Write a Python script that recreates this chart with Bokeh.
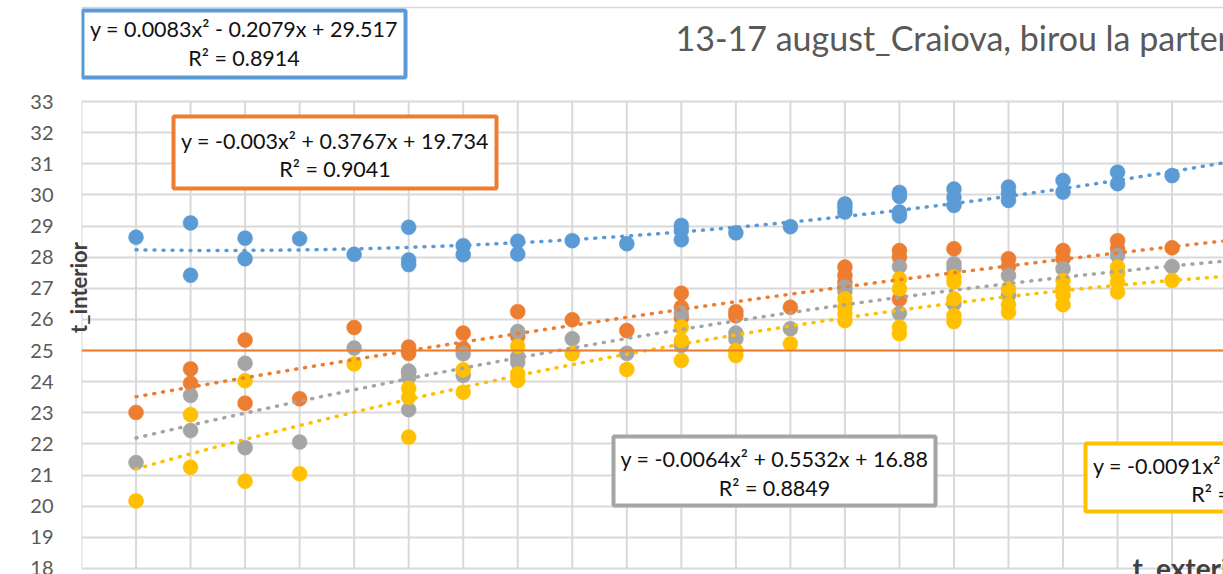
import numpy as np
from bokeh.plotting import figure
from bokeh.models import FixedTicker, Span, Range1d
from bokeh.core.properties import value
from bokeh.embed import file_html
from bokeh.resources import INLINE

# ---------------- data ----------------
blue_x = [11, 12, 12, 13, 13, 14, 15, 16, 16, 16, 17, 17, 18, 18, 19, 20,
          21, 21, 21, 22, 23, 24, 24, 24, 25, 25, 25, 25, 26, 26, 26,
          27, 27, 27, 28, 28, 29, 29, 30]
blue_y = [28.64, 29.10, 27.42, 28.61, 27.95, 28.59, 28.09, 28.96, 27.91, 27.76,
          28.37, 28.08, 28.51, 28.10, 28.53, 28.43, 29.02, 28.86, 28.56, 28.78,
          28.98, 29.71, 29.60, 29.45, 30.08, 29.95, 29.45, 29.32, 30.19, 29.92,
          29.66, 30.25, 30.04, 29.82, 30.46, 30.09, 30.73, 30.36, 30.62]

orange_x = [11, 12, 12, 13, 13, 14, 15, 16, 16, 16, 17, 17, 18, 18, 19, 20,
            21, 21, 21, 22, 22, 23, 24, 24, 24, 25, 25, 25, 26, 27, 27,
            28, 28, 29, 29, 30]
orange_y = [23.01, 24.41, 23.95, 25.34, 23.31, 23.45, 25.74, 25.11, 24.91, 24.30,
            25.56, 25.06, 26.25, 25.45, 25.99, 25.64, 26.84, 26.39, 26.05, 26.25,
            26.12, 26.39, 27.68, 27.41, 27.20, 28.21, 28.00, 26.65, 28.27, 27.95,
            27.70, 28.21, 27.95, 28.53, 28.27, 28.30]

gray_x = [11, 12, 12, 13, 13, 14, 15, 16, 16, 16, 17, 17, 18, 18, 18, 19, 20,
          21, 21, 22, 22, 23, 24, 24, 25, 25, 26, 26, 26, 27, 27, 28,
          29, 29, 30]
gray_y = [21.40, 23.56, 22.43, 24.59, 21.88, 22.06, 25.08, 24.34, 24.14, 23.10,
          24.90, 24.20, 25.61, 24.80, 24.62, 25.38, 24.91, 26.20, 25.16, 25.56,
          25.38, 25.70, 27.04, 26.90, 27.70, 26.20, 27.79, 27.63, 26.50, 27.41,
          26.77, 27.63, 28.05, 27.50, 27.70]

yellow_x = [11, 12, 12, 13, 13, 14, 15, 16, 16, 16, 17, 17, 18, 18, 18, 19, 20,
            21, 21, 21, 22, 22, 23, 24, 24, 24, 24, 25, 25, 25, 25,
            26, 26, 26, 26, 26, 27, 27, 27, 28, 28, 28, 28, 29, 29, 29, 29, 30]
yellow_y = [20.17, 22.94, 21.25, 24.03, 20.80, 21.04, 24.57, 23.79, 23.50, 22.22,
            24.38, 23.66, 25.14, 24.25, 24.04, 24.90, 24.39, 25.75, 25.32, 24.68,
            25.00, 24.84, 25.22, 26.66, 26.39, 26.18, 25.96, 27.30, 26.98, 25.75,
            25.54, 27.36, 27.20, 26.66, 26.12, 25.93, 26.98, 26.47, 26.23, 27.25,
            26.98, 26.77, 26.47, 27.68, 27.46, 27.20, 26.88, 27.25]

# trendline coefficients (a, b, c) of y = a x^2 + b x + c, as printed on the chart
blue_fit = [0.0083, -0.2079, 29.517]
orange_fit = [-0.003, 0.3767, 19.734]
gray_fit = [-0.0064, 0.5532, 16.88]
yellow_fit = [-0.0091, 0.6917, 14.69]

blue_label = ["y = 0.0083x² - 0.2079x + 29.517", "R² = 0.8914"]
orange_label = ["y = -0.003x² + 0.3767x + 19.734", "R² = 0.9041"]
gray_label = ["y = -0.0064x² + 0.5532x + 16.88", "R² = 0.8849"]
yellow_label = ["y = -0.0091x² + 0.6917x + 14.69", "R² = 0.8787"]

y_ticks = list(range(18, 34))
x_grid = list(range(10, 31))
threshold = 25
title_text = "13-17 august_Craiova, birou la parter"
y_title = "t_interior"
x_title = "t_exterior"

# ---------------- layout ----------------
W, H = 1223, 574
LEFT = 81            # plot area left edge (page px)
PX_X = 54.53         # px per x unit
PX_Y = 31.13         # px per y unit
X0 = 10
X1 = X0 + (W - LEFT) / PX_X
Y1 = 33 + 101 / PX_Y          # y=33 sits at page px 101
Y0 = Y1 - H / PX_Y


def px2x(px):   # page pixel -> data x
    return X0 + (px - LEFT) / PX_X


def py2y(py):   # page pixel -> data y
    return Y1 - py / PX_Y


BLUE, ORANGE, GRAY, YELLOW = "#5B9BD5", "#ED7D31", "#A5A5A5", "#FFC000"
GRID = "#D9D9D9"
FONT = "Lato"

p = figure(width=W, height=H, x_range=Range1d(X0, X1), y_range=Range1d(Y0, Y1),
           output_backend="svg", toolbar_location=None, x_axis_location=None,
           min_border=0, min_border_left=LEFT)
p.outline_line_color = None
p.background_fill_color = "white"
p.border_fill_color = "white"

ax = p.yaxis[0]
ax.ticker = FixedTicker(ticks=y_ticks)
ax.axis_line_color = None
ax.major_tick_line_color = None
ax.minor_tick_line_color = None
ax.major_label_standoff = 22
ax.major_label_text_font = FONT
ax.major_label_text_font_size = "20px"
ax.major_label_text_color = "#595959"
ax.axis_label = y_title
ax.axis_label_text_font = FONT
ax.axis_label_text_font_size = "22px"
ax.axis_label_text_font_style = "bold"
ax.axis_label_text_color = "#404040"
ax.axis_label_standoff = -65

p.xgrid.visible = False
p.ygrid.grid_line_color = GRID
p.ygrid.grid_line_width = 2

# vertical grid lines only inside the plot area (18..33)
p.segment(x0=x_grid, x1=x_grid, y0=[y_ticks[0]] * len(x_grid),
          y1=[y_ticks[-1]] * len(x_grid), line_color=GRID, line_width=2)

# chart border (top)
p.segment(x0=[X0], x1=[X1], y0=[py2y(7)], y1=[py2y(7)],
          line_color=GRID, line_width=1.5)

# threshold line
p.add_layout(Span(location=threshold, dimension="width", line_color=ORANGE,
                  line_width=2))

# markers
for xs, ys, c in [(blue_x, blue_y, BLUE), (orange_x, orange_y, ORANGE),
                  (gray_x, gray_y, GRAY), (yellow_x, yellow_y, YELLOW)]:
    p.scatter(xs, ys, size=15, fill_color=c, line_color=c, line_width=0.5)

# trendlines
xt = np.linspace(11, 31.5, 300)
for coef, c in [(blue_fit, BLUE), (orange_fit, ORANGE), (gray_fit, GRAY),
                (yellow_fit, YELLOW)]:
    yt = np.polyval(coef, xt)
    p.line(xt, yt, line_color=c, line_width=3.5, line_dash="1 8",
           line_cap="round")

# equation boxes (page pixel rectangles) and labels
boxes = [
    (82, 405, 10, 77, BLUE, blue_label, 28, 57),
    (173, 496, 116, 188, ORANGE, orange_label, 140, 168),
    (613, 935, 436, 505, GRAY, gray_label, 458, 487),
    (1085, 1408, 443, 511, YELLOW, yellow_label, 465, 493),
]
for l, r, t, b, c, lab, y1, y2 in boxes:
    p.quad(left=[px2x(l)], right=[px2x(r)], top=[py2y(t)], bottom=[py2y(b)],
           fill_color="white", line_color=c, line_width=4)
    cx = px2x((l + r) / 2)
    p.text(x=[cx, cx], y=[py2y(y1), py2y(y2)], text=lab,
           text_font=value(FONT), text_font_size=value("21.5px"),
           text_color="#111111", text_align="center", text_baseline="middle")

# title
p.text(x=[px2x(675)], y=[py2y(37)], text=[title_text], text_font=value(FONT),
       text_font_size=value("34px"), text_color="#595959", text_align="left",
       text_baseline="middle")

# x axis title (cropped at bottom)
p.text(x=[px2x(1132)], y=[py2y(567)], text=[x_title], text_font=value(FONT),
       text_font_size=value("28px"), text_font_style="bold", text_color="#404040",
       text_align="left", text_baseline="middle")

open("out.html", "w").write(file_html(p, INLINE))
